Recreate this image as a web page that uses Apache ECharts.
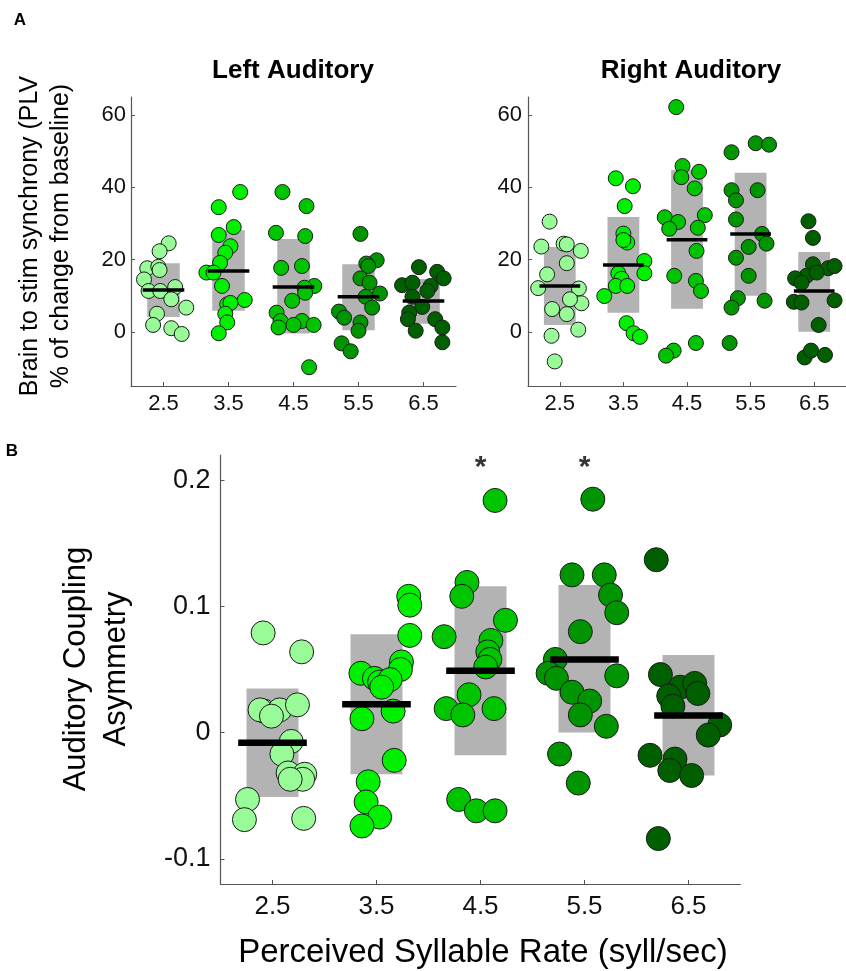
<!DOCTYPE html>
<html>
<head>
<meta charset="utf-8">
<style>html,body{margin:0;padding:0;background:#fff;}#c{width:846px;height:971px;}</style>
<script src="https://cdn.jsdelivr.net/npm/echarts@6/dist/echarts.min.js"></script>
</head>
<body>
<div id="c"></div>
<script>
// ---------- data ----------
const rates = [2.5, 3.5, 4.5, 5.5, 6.5];
const rateLabels = ['2.5', '3.5', '4.5', '5.5', '6.5'];
const groupColors = ['#98fb98', '#00f000', '#00c400', '#009400', '#006000'];
const yTicksA = [0, 20, 40, 60];
const yTicksB = [-0.1, 0, 0.1, 0.2];

// Left auditory: [jittered x, PLV % change]
const left25 = [[2.58,24.5],[2.44,22.3],[2.25,17.6],[2.42,18.0],[2.44,17.1],[2.20,14.5],[2.27,11.3],[2.45,11.3],[2.68,12.4],[2.62,9.0],[2.85,6.7],[2.40,5.0],[2.34,1.9],[2.62,1.0],[2.78,-0.6]];
const left35 = [[3.68,38.7],[3.35,34.5],[3.58,29.0],[3.35,26.8],[3.53,23.7],[3.45,21.9],[3.37,19.1],[3.16,16.4],[3.27,16.4],[3.40,12.7],[3.75,8.8],[3.48,7.6],[3.53,8.0],[3.45,5.0],[3.48,2.6],[3.35,-0.4]];
const left45 = [[4.33,38.7],[4.70,34.8],[4.23,27.4],[4.68,26.5],[4.31,17.7],[4.63,18.2],[4.82,12.7],[4.67,12.2],[4.68,10.8],[4.48,8.6],[4.24,5.3],[4.30,3.0],[4.27,1.2],[4.63,3.0],[4.50,1.9],[4.81,1.9],[4.74,-9.8]];
const left55 = [[5.53,27.1],[5.78,19.8],[5.62,18.9],[5.65,18.2],[5.53,14.8],[5.67,13.6],[5.83,10.6],[5.61,9.7],[5.71,6.7],[5.20,5.6],[5.28,3.9],[5.53,2.6],[5.50,0.3],[5.24,-3.2],[5.38,-5.4]];
const left65 = [[6.43,17.9],[6.71,16.6],[6.81,14.8],[6.17,12.9],[6.33,13.6],[6.61,12.7],[6.56,11.3],[6.33,9.7],[6.48,6.9],[6.28,5.3],[6.26,3.5],[6.68,3.5],[6.38,0.3],[6.79,1.2],[6.79,-2.9]];
const leftBoxLow  = [4.1, 5.8, -0.5, 0.4, 2.2];
const leftBoxHigh = [19.0, 28.1, 25.7, 18.7, 14.6];
const leftMean    = [11.6, 16.8, 12.4, 9.7, 8.5];

// Right auditory
const right25 = [[2.34,30.5],[2.21,23.6],[2.56,24.4],[2.61,24.2],[2.83,22.4],[2.61,19.0],[2.30,15.9],[2.16,12.1],[2.80,12.0],[2.84,7.9],[2.66,9.0],[2.38,6.3],[2.61,4.9],[2.79,0.6],[2.37,-1.1],[2.42,-8.2]];
const right35 = [[3.38,42.5],[3.65,40.3],[3.52,34.8],[3.50,27.2],[3.56,24.7],[3.50,25.4],[3.83,19.6],[3.83,16.2],[3.42,16.2],[3.47,14.7],[3.38,12.7],[3.56,12.7],[3.20,9.9],[3.55,2.4],[3.66,-0.4],[3.76,-1.4]];
const right45 = [[4.33,62.2],[4.43,45.9],[4.41,42.8],[4.69,44.3],[4.62,39.7],[4.78,32.3],[4.15,31.7],[4.36,30.4],[4.22,28.5],[4.67,28.8],[4.65,22.4],[4.30,15.5],[4.64,14.1],[4.72,11.3],[4.64,-3.1],[4.29,-5.2],[4.17,-6.6]];
const right55 = [[5.20,49.7],[5.58,52.2],[5.79,51.8],[5.20,39.2],[5.61,39.2],[5.27,36.4],[5.27,31.1],[5.68,27.1],[5.75,24.4],[5.47,23.5],[5.27,20.5],[5.47,15.5],[5.30,9.3],[5.20,6.7],[5.72,8.6],[5.17,-3.1]];
const right65 = [[6.41,30.6],[6.48,26.0],[6.48,18.7],[6.72,17.6],[6.82,18.2],[6.38,15.5],[6.54,16.4],[6.20,14.8],[6.30,13.6],[6.18,8.3],[6.30,8.1],[6.82,8.7],[6.57,1.9],[6.35,-7.1],[6.45,-5.2],[6.67,-6.4]];
const rightBoxLow  = [1.9, 5.3, 6.4, 10.0, 0.0];
const rightBoxHigh = [23.5, 31.8, 44.8, 44.0, 22.1];
const rightMean    = [12.7, 18.5, 25.5, 27.1, 11.3];

// Auditory coupling asymmetry
const asym25 = [[2.41,0.079],[2.78,0.064],[2.42,0.017],[2.38,0.018],[2.57,0.018],[2.49,0.013],[2.74,0.022],[2.68,-0.007],[2.59,-0.017],[2.65,-0.032],[2.81,-0.033],[2.79,-0.037],[2.67,-0.037],[2.26,-0.053],[2.23,-0.069],[2.80,-0.068]];
const asym35 = [[3.81,0.108],[3.82,0.101],[3.82,0.077],[3.74,0.056],[3.73,0.050],[3.35,0.047],[3.48,0.043],[3.53,0.040],[3.63,0.042],[3.55,0.036],[3.66,0.017],[3.36,0.011],[3.67,-0.022],[3.42,-0.039],[3.40,-0.055],[3.53,-0.067],[3.36,-0.074]];
const asym45 = [[4.64,0.184],[4.37,0.119],[4.32,0.108],[4.15,0.076],[4.74,0.089],[4.60,0.073],[4.57,0.064],[4.59,0.058],[4.55,0.052],[4.39,0.030],[4.17,0.019],[4.33,0.014],[4.63,0.019],[4.29,-0.053],[4.46,-0.062],[4.64,-0.062]];
const asym55 = [[5.58,0.185],[5.38,0.125],[5.69,0.125],[5.75,0.109],[5.81,0.095],[5.46,0.080],[5.22,0.058],[5.15,0.047],[5.23,0.043],[5.38,0.032],[5.55,0.025],[5.46,0.014],[5.81,0.045],[5.71,0.005],[5.26,-0.017],[5.44,-0.040]];
const asym65 = [[6.19,0.137],[6.23,0.046],[6.42,0.036],[6.56,0.039],[6.59,0.031],[6.31,0.029],[6.35,0.021],[6.80,0.006],[6.69,-0.002],[6.13,-0.018],[6.37,-0.021],[6.32,-0.030],[6.53,-0.034],[6.21,-0.084]];
const asymBoxLow  = [-0.051, -0.033, -0.018, 0.0, -0.034];
const asymBoxHigh = [0.035, 0.078, 0.116, 0.117, 0.0615];
const asymMean    = [-0.008, 0.0225, 0.049, 0.058, 0.0135];
const starPositions = [[4.5, 0.21], [5.5, 0.21]];

// ---------- chart ----------
const FONT = '"Liberation Sans", Arial, Helvetica, sans-serif';
const leftGroups = [left25, left35, left45, left55, left65];
const rightGroups = [right25, right35, right45, right55, right65];
const asymGroups = [asym25, asym35, asym45, asym55, asym65];

function boxRenderer(halfW) {
  return function (params, api) {
    const x = api.value(0), lo = api.value(1), hi = api.value(2);
    const p1 = api.coord([x - halfW, hi]);
    const p2 = api.coord([x + halfW, lo]);
    return { type: 'rect', shape: { x: p1[0], y: p1[1], width: p2[0] - p1[0], height: p2[1] - p1[1] },
      style: { fill: '#b3b3b3' } };
  };
}
function meanRenderer(halfW, lw) {
  return function (params, api) {
    const x = api.value(0), m = api.value(1);
    const a = api.coord([x - halfW, m]);
    const b = api.coord([x + halfW, m]);
    return { type: 'line', shape: { x1: a[0], y1: a[1], x2: b[0], y2: b[1] },
      style: { stroke: '#000', lineWidth: lw } };
  };
}

function xAxisDef(gi, fontSize, margin) {
  return {
    type: 'value', gridIndex: gi, min: 2, max: 7,
    axisLine: { show: true, onZero: false, lineStyle: { color: '#555', width: 1.2 } },
    axisTick: { show: true, inside: true, length: 4, customValues: rates, lineStyle: { color: '#555' } },
    axisLabel: { show: true, customValues: rates, margin: margin, color: '#111', fontSize: fontSize, fontFamily: FONT,
      formatter: function (v) { const i = rates.indexOf(v); return i >= 0 ? rateLabels[i] : ''; } },
    splitLine: { show: false }
  };
}
function yAxisDef(gi, min, max, ticks, fontSize, margin) {
  return {
    type: 'value', gridIndex: gi, min: min, max: max,
    axisLine: { show: true, onZero: false, lineStyle: { color: '#555', width: 1.2 } },
    axisTick: { show: true, inside: true, length: 4, customValues: ticks, lineStyle: { color: '#555' } },
    axisLabel: { show: true, customValues: ticks, margin: margin, color: '#111', fontSize: fontSize, fontFamily: FONT },
    splitLine: { show: false }
  };
}

const series = [];
function addPanel(gi, groups, low, high, mean, symSize, boxHalf, meanHalf, meanLw) {
  series.push({
    type: 'custom', xAxisIndex: gi, yAxisIndex: gi, z: 1,
    renderItem: boxRenderer(boxHalf), encode: { x: 0, y: [1, 2] },
    data: rates.map((r, i) => [r, low[i], high[i]])
  });
  groups.forEach((g, i) => {
    series.push({
      type: 'scatter', xAxisIndex: gi, yAxisIndex: gi, z: 2,
      symbol: 'circle', symbolSize: symSize,
      itemStyle: { color: groupColors[i], borderColor: '#1a1a1a', borderWidth: 1, opacity: 1 },
      data: g
    });
  });
  series.push({
    type: 'custom', xAxisIndex: gi, yAxisIndex: gi, z: 3,
    renderItem: meanRenderer(meanHalf, meanLw), encode: { x: 0, y: 1 },
    data: rates.map((r, i) => [r, mean[i]])
  });
}
addPanel(0, leftGroups, leftBoxLow, leftBoxHigh, leftMean, 15, 0.25, 0.32, 3.5);
addPanel(1, rightGroups, rightBoxLow, rightBoxHigh, rightMean, 15, 0.25, 0.32, 3.5);
addPanel(2, asymGroups, asymBoxLow, asymBoxHigh, asymMean, 24, 0.25, 0.33, 6.5);
series.push({
  type: 'scatter', xAxisIndex: 2, yAxisIndex: 2, z: 4, symbolSize: 0,
  label: { show: true, position: 'inside', formatter: '*', fontSize: 30, fontWeight: 'bold', color: '#000', fontFamily: FONT },
  data: starPositions
});

const option = {
  animation: false,
  backgroundColor: '#fff',
  grid: [
    { left: 131, top: 97, width: 325, height: 289 },
    { left: 528, top: 97, width: 325, height: 289 },
    { left: 220.5, top: 455, width: 520, height: 429 }
  ],
  xAxis: [xAxisDef(0, 22, 7), xAxisDef(1, 22, 7), xAxisDef(2, 26, 10)],
  yAxis: [yAxisDef(0, -15, 65, yTicksA, 22, 5), yAxisDef(1, -15, 65, yTicksA, 22, 6), yAxisDef(2, -0.12, 0.22, yTicksB, 27, 10)],
  graphic: [
    { type: 'text', x: 20, y: 20, style: { text: 'A', font: 'bold 17px ' + FONT, fill: '#000', align: 'center', verticalAlign: 'middle' } },
    { type: 'text', x: 12, y: 451, style: { text: 'B', font: 'bold 17px ' + FONT, fill: '#000', align: 'center', verticalAlign: 'middle' } },
    { type: 'text', x: 293, y: 71, style: { text: 'Left Auditory', font: 'bold 26px ' + FONT, fill: '#000', align: 'center', verticalAlign: 'middle' } },
    { type: 'text', x: 691, y: 71, style: { text: 'Right Auditory', font: 'bold 26px ' + FONT, fill: '#000', align: 'center', verticalAlign: 'middle' } },
    { type: 'text', x: 46, y: 236, rotation: Math.PI / 2,
      style: { text: 'Brain to stim synchrony (PLV\n% of change from baseline)', font: '25px ' + FONT, lineHeight: 31, fill: '#000', align: 'center', verticalAlign: 'middle' } },
    { type: 'text', x: 96, y: 669, rotation: Math.PI / 2,
      style: { text: 'Auditory Coupling\nAsymmetry', font: '31px ' + FONT, lineHeight: 40, fill: '#000', align: 'center', verticalAlign: 'middle' } },
    { type: 'text', x: 483, y: 953,
      style: { text: 'Perceived Syllable Rate (syll/sec)', font: '33px ' + FONT, fill: '#000', align: 'center', verticalAlign: 'middle' } }
  ],
  series: series
};
const chart = echarts.init(document.getElementById('c'), null, { renderer: 'canvas' });
chart.setOption(option);
</script>
</body>
</html>
